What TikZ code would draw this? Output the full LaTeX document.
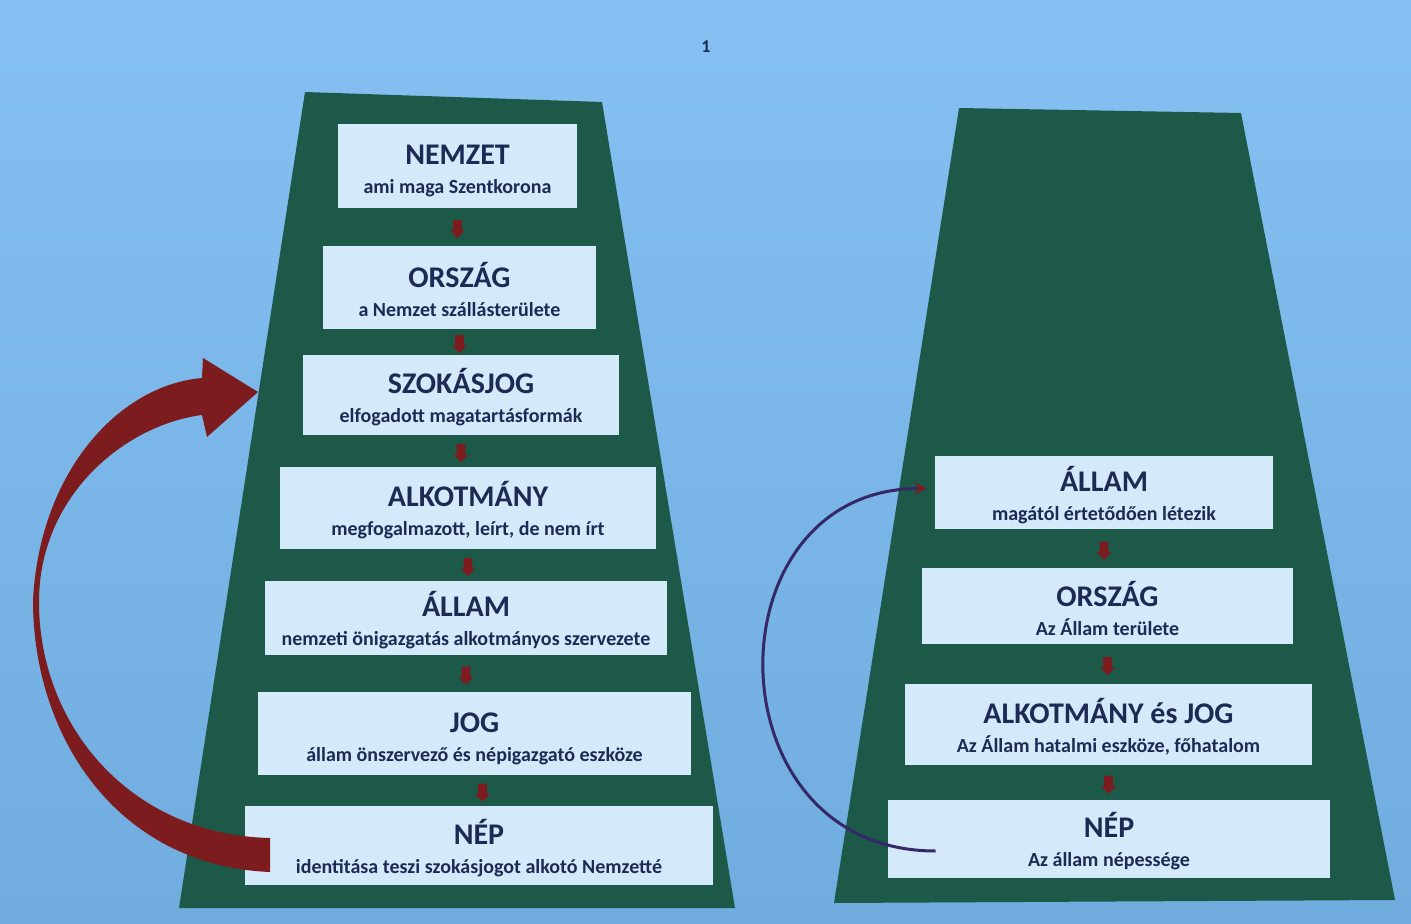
\documentclass[tikz,border=0pt]{standalone}
\usepackage{fontspec}
\setmainfont{Carlito}
\usepackage{tikz}
\usetikzlibrary{arrows.meta,shapes.arrows}
\definecolor{hatterfent}{RGB}{134,192,242}
\definecolor{hatterlent}{RGB}{112,172,222}
\definecolor{zold}{RGB}{29,89,72}
\definecolor{doboz}{RGB}{212,233,250}
\definecolor{szoveg}{RGB}{28,42,84}
\definecolor{piros}{RGB}{125,28,30}
\definecolor{lila}{RGB}{52,40,105}
\tikzstyle{szint} = [fill=doboz, rectangle, inner sep=0pt, align=center, text=szoveg, font=\bfseries\fontsize{10}{14.5}\selectfont]
\tikzstyle{lefele} = [single arrow, fill=piros, shape border rotate=270, minimum height=9pt, minimum width=7.5pt, single arrow head extend=1.5pt, inner sep=2pt]
\tikzstyle{vekony} = [draw=lila, line width=1.5pt, -{Stealth[length=6pt,width=6pt,color=piros]}, shorten >=4pt]
\newcommand{\szintcim}[1]{{\rule{0pt}{15pt}\fontsize{15}{16}\selectfont #1}}

\begin{document}
\begin{tikzpicture}[x=0.5pt,y=-0.5pt]
	\useasboundingbox (0,0) rectangle (1411,924);
	\shade[top color=hatterfent, bottom color=hatterlent] (0,0) rectangle (1411,924);
	\node[text=szoveg, font=\bfseries\fontsize{9}{10}\selectfont] (oldal) at (706,47) {1};
	\fill[zold] (305,92) -- (602,102) -- (735,908) -- (179,908) -- cycle;
	\fill[zold] (959,108) -- (1241,113) -- (1395,900) -- (834,903) -- cycle;

	\node[szint, minimum width=119.5pt, minimum height=42pt] (lnemzet) at (457.5,166) {\szintcim{NEMZET}\\ami maga Szentkorona};
	\node[szint, minimum width=136.5pt, minimum height=41.5pt] (lorszag) at (459.5,287.5) {\szintcim{ORSZÁG}\\a Nemzet szállásterülete};
	\node[szint, minimum width=158pt, minimum height=40pt] (lszokas) at (461,395) {\szintcim{SZOKÁSJOG}\\elfogadott magatartásformák};
	\node[szint, minimum width=188pt, minimum height=41pt] (lalkot) at (468,508) {\szintcim{ALKOTMÁNY}\\megfogalmazott, leírt, de nem írt};
	\node[szint, minimum width=201pt, minimum height=37pt] (lallam) at (466,618) {\szintcim{ÁLLAM}\\nemzeti önigazgatás alkotmányos szervezete};
	\node[szint, minimum width=216.5pt, minimum height=41.5pt] (ljog) at (474.5,733.5) {\szintcim{JOG}\\állam önszervező és népigazgató eszköze};
	\node[szint, minimum width=234pt, minimum height=39.5pt] (lnep) at (479,845.5) {\szintcim{NÉP}\\identitása teszi szokásjogot alkotó Nemzetté};

	\path (lnemzet.south) -- (lnemzet.south |- lorszag.north) node[midway, lefele] (n1) {};
	\path (lorszag.south) -- (lorszag.south |- lszokas.north) node[midway, lefele] (n2) {};
	\path (lszokas.south) -- (lszokas.south |- lalkot.north) node[midway, lefele] (n3) {};
	\path (lalkot.south) -- (lalkot.south |- lallam.north) node[midway, lefele] (n4) {};
	\path (lallam.south) -- (lallam.south |- ljog.north) node[midway, lefele] (n5) {};
	\path ([xshift=4pt]ljog.south) -- ([xshift=4pt]ljog.south |- lnep.north) node[midway, lefele] (n6) {};

	\fill[piros] (270,872) .. controls (120,866) and (33,740) .. (33,600) .. controls (40,470) and (120,385) .. (202,378) -- (203,358) -- (258,392) -- (207,437) -- (202,415) .. controls (125,425) and (40,495) .. (39,600) .. controls (38,725) and (130,835) .. (270,838) -- cycle;

	\node[szint, minimum width=169pt, minimum height=36.5pt] (rallam) at (1104,492.5) {\szintcim{ÁLLAM}\\magától értetődően létezik};
	\node[szint, minimum width=185.5pt, minimum height=38pt] (rorszag) at (1107.5,606) {\szintcim{ORSZÁG}\\Az Állam területe};
	\node[szint, minimum width=203.5pt, minimum height=40.5pt] (ralkot) at (1108.5,724.5) {\szintcim{ALKOTMÁNY és JOG}\\Az Állam hatalmi eszköze, főhatalom};
	\node[szint, minimum width=221pt, minimum height=39pt] (rnep) at (1109,839) {\szintcim{NÉP}\\Az állam népessége};

	\path (rallam.south) -- (rallam.south |- rorszag.north) node[midway, lefele] (m1) {};
	\path (rorszag.south) -- (rorszag.south |- ralkot.north) node[midway, lefele] (m2) {};
	\path (ralkot.south) -- (ralkot.south |- rnep.north) node[midway, lefele] (m3) {};

	\draw[vekony] ([xshift=24pt,yshift=-6pt]rnep.west) to[out=180,in=180,looseness=1.6] ([yshift=2pt]rallam.west);
\end{tikzpicture}
\end{document}
